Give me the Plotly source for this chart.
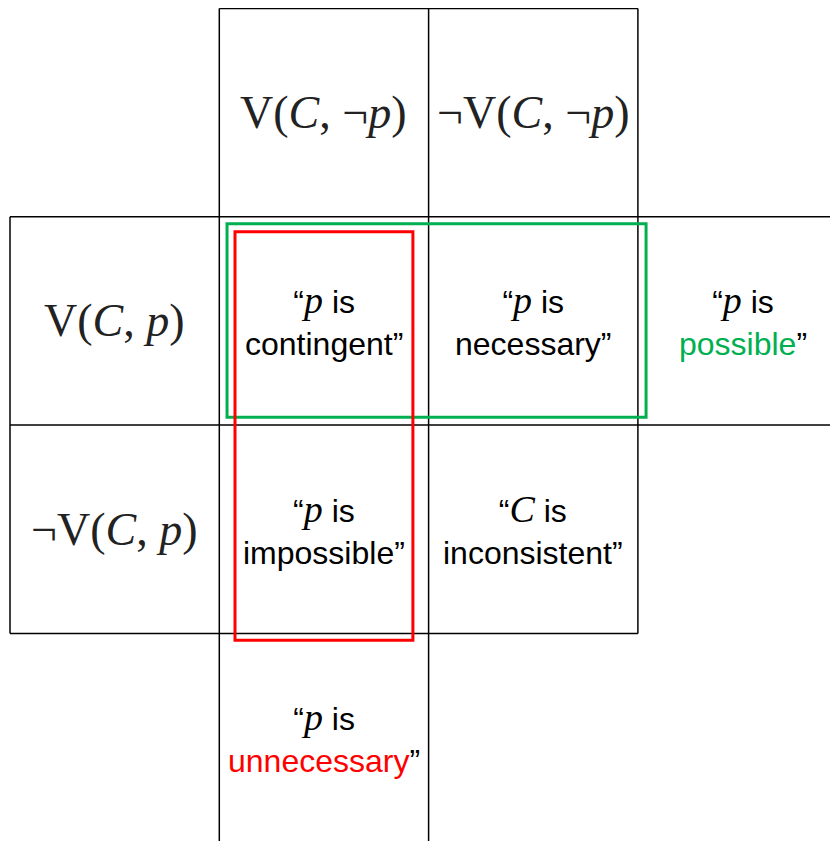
import plotly.graph_objects as go

# grid geometry in cell units (one cell = one unit)
grid_h_lines = [(0, 1, 3), (1, 0, 4), (2, 0, 4), (3, 0, 3)]   # (y, x0, x1)
grid_v_lines = [(0, 1, 3), (1, 0, 4), (2, 0, 4), (3, 0, 3)]   # (x, y0, y1)

col_headers = ["V(<i>C</i>, ¬<i>p</i>)", "¬V(<i>C</i>, ¬<i>p</i>)"]
row_headers = ["V(<i>C</i>, <i>p</i>)", "¬V(<i>C</i>, <i>p</i>)"]

# (col, row, subject, predicate, predicate colour)
cells = [
    (1.5, 1.5, "p", "contingent", "black"),
    (2.5, 1.5, "p", "necessary", "black"),
    (3.5, 1.5, "p", "possible", "#00B050"),
    (1.5, 2.5, "p", "impossible", "black"),
    (2.5, 2.5, "C", "inconsistent", "black"),
    (1.5, 3.5, "p", "unnecessary", "#FF0000"),
]

# highlight boxes: (x0, y0, x1, y1, colour)
boxes = [
    (1.037, 1.033, 3.039, 1.962, "#00B050"),
    (1.075, 1.072, 1.925, 3.033, "#FF0000"),
]

SERIF = "Liberation Serif"
SANS = "Liberation Sans"

fig = go.Figure()

for y, x0, x1 in grid_h_lines:
    fig.add_shape(type="line", x0=x0, x1=x1, y0=y, y1=y,
                  line=dict(color="black", width=1.5))
for x, y0, y1 in grid_v_lines:
    fig.add_shape(type="line", x0=x, x1=x, y0=y0, y1=y1,
                  line=dict(color="black", width=1.5))

for x0, y0, x1, y1, c in boxes:
    fig.add_shape(type="rect", x0=x0, x1=x1, y0=y0, y1=y1,
                  line=dict(color=c, width=3))

for i, lab in enumerate(col_headers):
    fig.add_annotation(x=1.5 + i, y=0.5, text=lab, showarrow=False,
                       font=dict(family=SERIF, size=46, color="#222"))
for i, lab in enumerate(row_headers):
    fig.add_annotation(x=0.5, y=1.5 + i, text=lab, showarrow=False,
                       font=dict(family=SERIF, size=46, color="#222"))

for cx, cy, subj, pred, pc in cells:
    txt = (f'“<span style="font-family:{SERIF}; font-size:38px"><i>{subj}</i></span> is<br>'
           f'<span style="color:{pc}">{pred}</span>”')
    fig.add_annotation(x=cx, y=cy, text=txt, showarrow=False,
                       font=dict(family=SANS, size=32, color="black"))

# page body has an 8px margin, so the plot starts at page pixel 8
fig.update_xaxes(range=[-2 / 209.3, 828 / 209.3], visible=False, fixedrange=True)
fig.update_yaxes(range=[832.5 / 208.3, -0.5 / 208.3], visible=False, fixedrange=True)
fig.update_layout(
    width=830, height=833,
    margin=dict(l=0, r=0, t=0, b=0),
    plot_bgcolor="white", paper_bgcolor="white",
    showlegend=False,
)

fig.write_html("out.html")
